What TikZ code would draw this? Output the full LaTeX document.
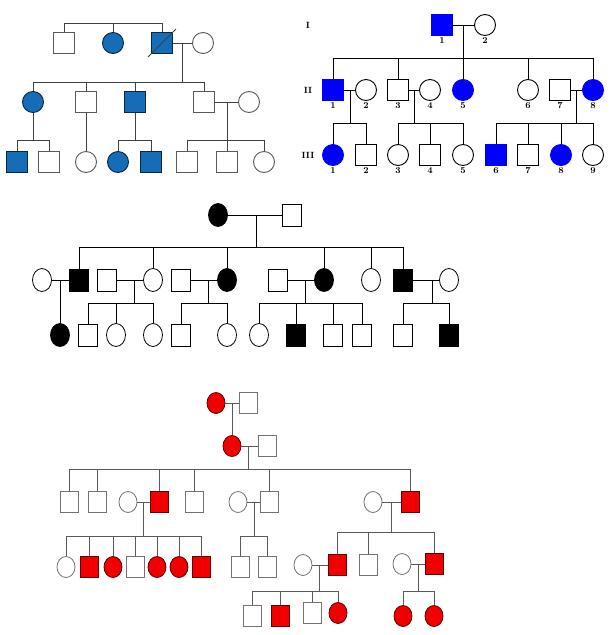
\documentclass[tikz,border=0pt]{standalone}
\usetikzlibrary{shapes.geometric}
\definecolor{bA}{RGB}{21,109,184}
\definecolor{bB}{RGB}{0,0,255}
\definecolor{rA}{RGB}{240,0,0}
\newcommand\nd[4][]{\node[#1] (#2) at (#3,#4) {};}
\begin{document}
\begin{tikzpicture}[x=1pt,y=-1pt,
 ln1/.style={draw=black!75,line width=0.9pt},
 s1/.style={rectangle,draw=black!65,line width=0.9pt,minimum size=21pt,inner sep=0pt,fill=white},
 c1/.style={s1,circle},
 f1/.style={fill=bA,draw=black!65!bA},
 ln2/.style={draw=black,line width=0.9pt},
 s2/.style={rectangle,draw=black,line width=0.9pt,minimum size=21pt,inner sep=0pt,fill=white},
 c2/.style={s2,circle},
 f2/.style={fill=bB,draw=bB},
 lb/.style={font=\bfseries\small,inner sep=1pt},
 ln3/.style={draw=black,line width=0.8pt},
 s3/.style={rectangle,draw=black,line width=0.8pt,minimum width=19pt,minimum height=22pt,inner sep=0pt,fill=white},
 c3/.style={s3,ellipse,minimum height=23pt},
 f3/.style={fill=black},
 ln4/.style={draw=black!65,line width=0.8pt},
 s4/.style={rectangle,draw=black!55,line width=0.8pt,minimum width=18pt,minimum height=21pt,inner sep=0pt,fill=white},
 c4/.style={s4,ellipse},
 f4/.style={fill=rA,draw=black!60!rA},
]
\useasboundingbox (0,0) rectangle (614,635);
% ---------- pedigree 1 ----------
\nd[s1]{a1}{64}{43}\nd[c1,f1]{a2}{113}{43}\nd[s1,f1]{a3}{162}{43}\nd[c1]{a4}{203}{43}
\nd[c1,f1]{b1}{33}{102}\nd[s1]{b2}{86}{102}\nd[s1,f1]{b3}{135}{102}\nd[s1]{b4}{204}{102}\nd[c1]{b5}{249}{102}
\nd[s1,f1]{c1}{17}{162}\nd[s1]{c2}{49}{162}\nd[c1]{c3}{86}{162}\nd[c1,f1]{c4}{118}{162}\nd[s1,f1]{c5}{151}{162}
\nd[s1]{c6}{187}{162}\nd[s1]{c7}{227}{162}\nd[c1]{c8}{264}{162}
\begin{scope}[ln1]
\draw (a1) -- (a1 |- 0,23) -| (a3); \draw (a2) -- (a2 |- 0,23);
\draw (a3) -- (a4); \coordinate (j1) at (182,43); \draw (j1) -- (182,82);
\draw (b1) -- (b1 |- 0,82) -| (b4); \draw (b2) -- (b2 |- 0,82); \draw (b3) -- (b3 |- 0,82);
\draw (b4) -- (b5); \coordinate (j2) at (227,102); \draw (j2) -- (227,140);
\draw (b1) -- (33,140); \draw (c1) -- (c1 |- 0,140) -| (c2);
\draw (b2) -- (c3);
\draw (b3) -- (135,140); \draw (c4) -- (c4 |- 0,140) -| (c5);
\draw (c6) -- (c6 |- 0,140) -| (c8); \draw (c7) -- (c7 |- 0,140);
\draw ([shift={(-3,3)}]a3.south west) -- ([shift={(3,-3)}]a3.north east);
\end{scope}
% ---------- pedigree 2 ----------
\node[lb] (r1) at (308,25) {I};\node[lb] (r2) at (308,90) {II};\node[lb] (r3) at (308,155) {III};
\begin{scope}[every label/.style={lb}, label distance=0pt]
\nd[s2,f2,label=below:1]{e1}{442}{25}\nd[c2,label=below:2]{e2}{485}{25}
\nd[s2,f2,label=below:1]{g1}{333}{90}\nd[c2,label=below:2]{g2}{366}{90}\nd[s2,label=below:3]{g3}{398}{90}
\nd[c2,label=below:4]{g4}{430}{90}\nd[c2,f2,label=below:5]{g5}{463}{90}\nd[c2,label=below:6]{g6}{528}{90}
\nd[s2,label=below:7]{g7}{560}{90}\nd[c2,f2,label=below:8]{g8}{593}{90}
\nd[c2,f2,label=below:1]{h1}{333}{155}\nd[s2,label=below:2]{h2}{366}{155}\nd[c2,label=below:3]{h3}{398}{155}
\nd[s2,label=below:4]{h4}{430}{155}\nd[c2,label=below:5]{h5}{463}{155}\nd[s2,f2,label=below:6]{h6}{496}{155}
\nd[s2,label=below:7]{h7}{528}{155}\nd[c2,f2,label=below:8]{h8}{561}{155}\nd[c2,label=below:9]{h9}{593}{155}
\end{scope}
\begin{scope}[ln2]
\draw (e1) -- (e2); \coordinate (j3) at (463,25); \draw (j3) -- (463,58);
\draw (g1) -- (g1 |- 0,58) -| (g8); \draw (g3) -- (g3 |- 0,58); \draw (g5) -- (g5 |- 0,58); \draw (g6) -- (g6 |- 0,58);
\draw (g1) -- (g2); \coordinate (j4) at (350,90); \draw (j4) -- (350,123);
\draw (g3) -- (g4); \coordinate (j5) at (414,90); \draw (j5) -- (414,123);
\draw (g7) -- (g8); \coordinate (j6) at (576,90); \draw (j6) -- (576,123);
\draw (h1) -- (h1 |- 0,123) -| (h2);
\draw (h3) -- (h3 |- 0,123) -| (h5); \draw (h4) -- (h4 |- 0,123);
\draw (h6) -- (h6 |- 0,123) -| (h9); \draw (h7) -- (h7 |- 0,123); \draw (h8) -- (h8 |- 0,123);
\end{scope}
% ---------- pedigree 3 ----------
\nd[c3,f3]{i1}{218}{215}\nd[s3]{i2}{292}{215}
\nd[c3]{k1}{42}{280}\nd[s3,f3]{k2}{79}{280}\nd[s3]{k3}{107}{280}\nd[c3]{k4}{153}{280}\nd[s3]{k5}{181}{280}
\nd[c3,f3]{k6}{227}{280}\nd[s3]{k7}{278}{280}\nd[c3,f3]{k8}{324}{280}\nd[c3]{k9}{371}{280}\nd[s3,f3]{k10}{403}{280}\nd[c3]{k11}{449}{280}
\nd[c3,f3]{m1}{60}{335}\nd[s3]{m2}{88}{335}\nd[c3]{m3}{116}{335}\nd[c3]{m4}{153}{335}\nd[s3]{m5}{181}{335}\nd[c3]{m6}{227}{335}
\nd[c3]{m7}{259}{335}\nd[s3,f3]{m8}{296}{335}\nd[s3]{m9}{333}{335}\nd[s3]{m10}{362}{335}\nd[s3]{m11}{403}{335}\nd[s3,f3]{m12}{449}{335}
\begin{scope}[ln3]
\draw (i1) -- (i2); \coordinate (j7) at (256,215); \draw (j7) -- (256,247);
\draw (k2) -- (k2 |- 0,247) -| (k10); \draw (k4) -- (k4 |- 0,247); \draw (k6) -- (k6 |- 0,247); \draw (k8) -- (k8 |- 0,247); \draw (k9) -- (k9 |- 0,247);
\draw (k1) -- (k2); \coordinate (j8) at (60,280); \draw (j8) -- (m1);
\draw (k3) -- (k4); \coordinate (j9) at (134,280); \draw (j9) -- (134,303);
\draw (k5) -- (k6); \coordinate (j10) at (208,280); \draw (j10) -- (208,303);
\draw (k7) -- (k8); \coordinate (j11) at (305,280); \draw (j11) -- (305,303);
\draw (k10) -- (k11); \coordinate (j12) at (432,280); \draw (j12) -- (432,303);
\draw (m2) -- (m2 |- 0,303) -| (m4); \draw (m3) -- (m3 |- 0,303);
\draw (m5) -- (m5 |- 0,303) -| (m6);
\draw (m7) -- (m7 |- 0,303) -| (m10); \draw (m8) -- (m8 |- 0,303); \draw (m9) -- (m9 |- 0,303);
\draw (m11) -- (m11 |- 0,303) -| (m12);
\end{scope}
% ---------- pedigree 4 ----------
\nd[c4,f4]{l1}{216}{403}\nd[s4]{l2}{248}{403}
\nd[c4,f4]{l3}{232}{446}\nd[s4]{l4}{267}{446}
\nd[s4]{n1}{69}{502}\nd[s4]{n2}{97}{502}\nd[c4]{n3}{128}{502}\nd[s4,f4]{n4}{159}{502}\nd[s4]{n5}{194}{502}
\nd[c4]{n6}{238}{502}\nd[s4]{n7}{269}{502}\nd[c4]{n8}{373}{502}\nd[s4,f4]{n9}{410}{502}
\nd[c4]{o1}{66}{567}\nd[s4,f4]{o2}{89}{567}\nd[c4,f4]{o3}{113}{567}\nd[s4]{o4}{135}{567}\nd[c4,f4]{o5}{157}{567}
\nd[c4,f4]{o6}{179}{567}\nd[s4,f4]{o7}{201}{567}\nd[s4]{o8}{240}{567}\nd[s4]{o9}{267}{567}
\nd[c4]{o10}{303}{565}\nd[s4,f4]{o11}{337}{565}\nd[s4]{o12}{368}{565}\nd[c4]{o13}{402}{564}\nd[s4,f4]{o14}{434}{564}
\nd[s4]{p1}{252}{616}\nd[s4,f4]{p2}{280}{616}\nd[s4]{p3}{312}{613}\nd[c4,f4]{p4}{338}{613}
\nd[c4,f4]{p5}{403}{616}\nd[c4,f4]{p6}{434}{616}
\begin{scope}[ln4]
\draw (l1) -- (l2); \coordinate (j13) at (232,403); \draw (j13) -- (l3);
\draw (l3) -- (l4); \coordinate (j14) at (248,446); \draw (j14) -- (248,469);
\draw (n1) -- (n1 |- 0,469) -| (n9); \draw (n2) -- (n2 |- 0,469); \draw (n4) -- (n4 |- 0,469); \draw (n5) -- (n5 |- 0,469); \draw (n7) -- (n7 |- 0,469);
\draw (n3) -- (n4); \coordinate (j15) at (143,502); \draw (j15) -- (143,536);
\draw (n6) -- (n7); \coordinate (j16) at (254,502); \draw (j16) -- (254,536);
\draw (n8) -- (n9); \coordinate (j17) at (391,502); \draw (j17) -- (391,532);
\draw (o1) -- (o1 |- 0,536) -| (o7);
\foreach \k in {o2,o3,o4,o5,o6} \draw (\k) -- (\k |- 0,536);
\draw (o8) -- (o8 |- 0,536) -| (o9);
\draw (o11) -- (o11 |- 0,532) -| (o14); \draw (o12) -- (o12 |- 0,532);
\draw (o10) -- (o11); \coordinate (j18) at (319,565); \draw (j18) -- (319,591);
\draw (o13) -- (o14); \coordinate (j19) at (418,564); \draw (j19) -- (418,591);
\draw (p1) -- (p1 |- 0,591) -| (p4); \draw (p2) -- (p2 |- 0,591); \draw (p3) -- (p3 |- 0,591);
\draw (p5) -- (p5 |- 0,591) -| (p6);
\end{scope}
\end{tikzpicture}
\end{document}
